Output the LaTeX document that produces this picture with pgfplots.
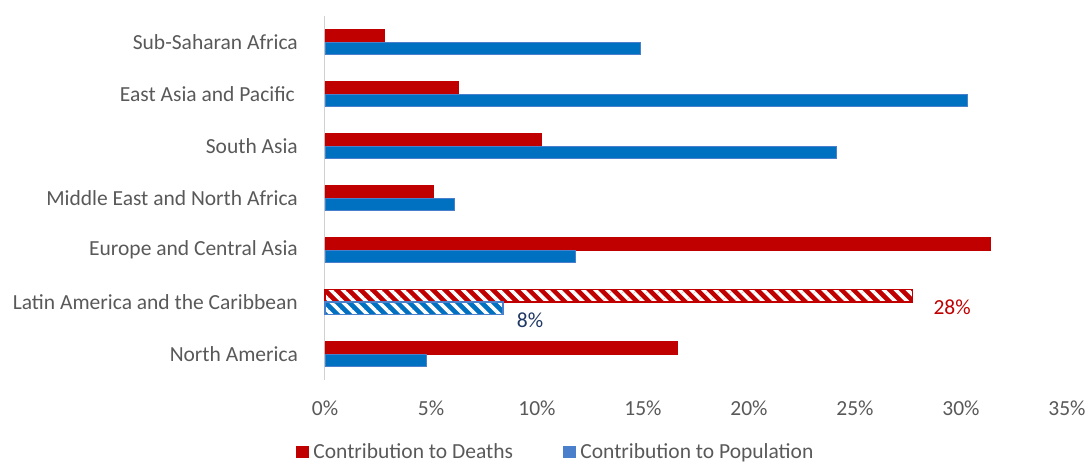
\documentclass[border=0pt]{standalone}
\usepackage{pgfplots}
\pgfplotsset{compat=1.18}
\usepackage{fontspec}
\setmainfont{Carlito}
\usetikzlibrary{patterns.meta}
\definecolor{dred}{HTML}{C00000}
\definecolor{dblue}{HTML}{0070C0}
\definecolor{bblue}{HTML}{4A7FCC}
\definecolor{txt}{HTML}{595959}
\definecolor{navy}{HTML}{203864}
\begin{document}
\begin{tikzpicture}
\useasboundingbox (-325pt,-84pt) rectangle (764pt,380pt);
\begin{axis}[
  at={(0,0)}, anchor=south west,
  scale only axis, width=742pt, height=364pt,
  xbar, bar width=12.5pt,
  xmin=0, xmax=35, ymin=-0.5, ymax=6.5,
  xtick={0,5,10,15,20,25,30,35},
  xticklabels={0\%,5\%,10\%,15\%,20\%,25\%,30\%,35\%},
  ytick={0,1,2,3,4,5,6},
  yticklabels={North America,Latin America and the Caribbean,Europe and Central Asia,Middle East and North Africa,South Asia,East Asia and Pacific\hspace*{3pt},Sub-Saharan Africa},
  major tick length=0pt,
  axis x line*=bottom, axis y line*=left,
  x axis line style={draw=none},
  y axis line style={draw=black!18, line width=1pt},
  tick label style={font=\fontsize{21.5}{24}\selectfont, text=txt},
  xticklabel style={anchor=north, inner sep=0pt, yshift=-21pt},
  yticklabel style={anchor=east, inner sep=0pt, xshift=-27pt},
  legend style={at={(0.311,-0.198)}, anchor=center, draw=none, fill=none,
    legend columns=2, font=\fontsize{21.5}{24}\selectfont, text=txt,
    /tikz/every odd column/.append style={column sep=3pt},
    /tikz/every even column/.append style={column sep=48pt},
    legend cell align=left},
  clip=false,
]
\addplot[fill=dred, draw=dred, line width=0.8pt, bar shift=6.25pt,
  legend image code/.code={\fill[dred] (0pt,-5.5pt) rectangle (11.5pt,6pt);}]
  coordinates {(16.6,0) (31.4,2) (5.1,3) (10.2,4) (6.3,5) (2.8,6)};
\addlegendentry{Contribution to Deaths}
\addplot[fill=dblue, draw=bblue, line width=0.8pt, bar shift=-6.25pt,
  legend image code/.code={\fill[dblue] (0pt,-5.5pt) rectangle (11.5pt,6pt); \draw[bblue,line width=0.8pt] (0pt,-5.5pt) rectangle (11.5pt,6pt);}]
  coordinates {(4.8,0) (11.8,2) (6.1,3) (24.1,4) (30.3,5) (14.9,6)};
\addlegendentry{Contribution to Population}
\addplot[forget plot, draw=dred, line width=1.2pt, bar shift=6.25pt,
  preaction={fill=dred},
  pattern={Lines[angle=-45, distance=8.5pt, line width=3.6pt]}, pattern color=white]
  coordinates {(27.7,1)};
\addplot[forget plot, draw=bblue, line width=1.2pt, bar shift=-6.25pt,
  preaction={fill=dblue},
  pattern={Lines[angle=-45, distance=8.5pt, line width=3.6pt]}, pattern color=white]
  coordinates {(8.4,1)};
\node[text=dred, font=\fontsize{21.5}{24}\selectfont] at (axis cs:29.58,0.904) {28\%};
\node[text=navy, font=\fontsize{21.5}{24}\selectfont] at (axis cs:9.67,0.654) {8\%};
\end{axis}
\end{tikzpicture}
\end{document}
